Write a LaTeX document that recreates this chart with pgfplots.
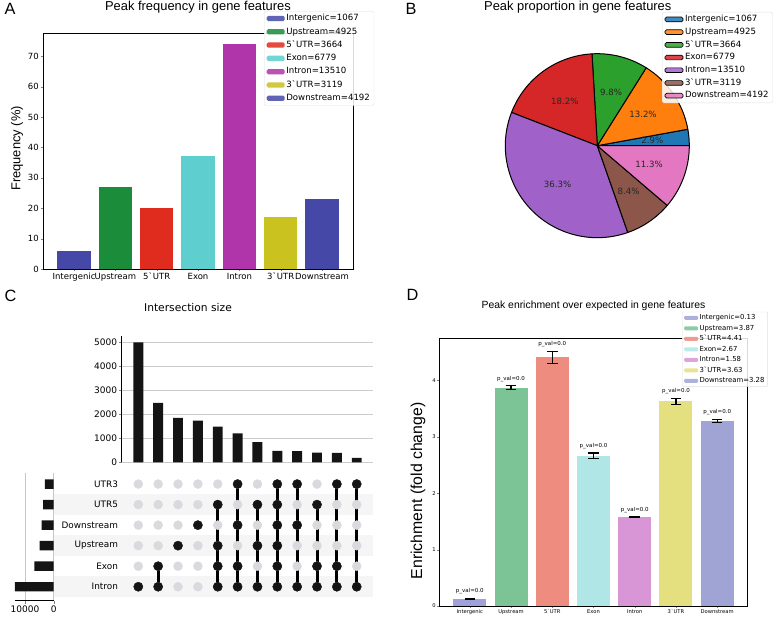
\documentclass[border=0pt]{standalone}
\usepackage{pgfplots}
\pgfplotsset{compat=1.18}
\usepackage{fontspec}
\setmainfont{Liberation Sans}
\newfontfamily\dvs{DejaVu Sans}
\newcommand\fs[1]{\fontsize{#1}{#1}\selectfont}

% panel A colours
\definecolor{aInt}{RGB}{70,72,168}
\definecolor{aUp}{RGB}{26,140,58}
\definecolor{aUf}{RGB}{224,44,30}
\definecolor{aEx}{RGB}{94,206,206}
\definecolor{aIn}{RGB}{176,52,170}
\definecolor{aUt}{RGB}{202,194,30}
\definecolor{aDn}{RGB}{70,72,168}
% panel B (tab10)
\definecolor{pBlue}{RGB}{31,119,180}
\definecolor{pOrange}{RGB}{255,127,14}
\definecolor{pGreen}{RGB}{44,160,44}
\definecolor{pRed}{RGB}{214,39,40}
\definecolor{pPurple}{RGB}{160,98,200}
\definecolor{pBrown}{RGB}{140,86,75}
\definecolor{pPink}{RGB}{227,119,194}
% panel D
\definecolor{dInt}{RGB}{160,160,218}
\definecolor{dUp}{RGB}{124,196,150}
\definecolor{dUf}{RGB}{238,140,128}
\definecolor{dEx}{RGB}{176,230,230}
\definecolor{dIn}{RGB}{216,150,214}
\definecolor{dUt}{RGB}{228,224,128}
\definecolor{dDn}{RGB}{160,164,212}
\definecolor{dotgray}{RGB}{218,218,222}

\pgfplotsset{
  /pgf/number format/assume math mode=true,
  /pgf/number format/1000 sep={},
  every axis title shift=0pt,
  patchA/.style={legend image code/.code={\fill[##1] (0pt,-2.65pt) rectangle (18pt,2.65pt);}},
  patchB/.style={legend image code/.code={\filldraw[##1] (0pt,-2.35pt) rectangle (18pt,2.35pt);}},
  patchD/.style={legend image code/.code={\fill[##1] (0pt,-2pt) rectangle (14pt,2pt);}},
  barA/.style={ybar, bar width=0.8, bar shift=0pt, draw=none, patchA},
  barD/.style={ybar, bar width=0.8, bar shift=0pt, draw=none, patchD},
  errD/.style={error bars/.cd, y dir=both, y explicit,
    error bar style={line width=1.2pt, black},
    error mark options={rotate=90, mark size=5.3pt, line width=1.1pt, black}},
}

\newcommand\pieslice[3]{%
  \filldraw[fill=#3, draw=black, line width=1pt, line join=round]
    (axis cs:0,0) -- (axis cs:{cos(#1)},{sin(#1)}) arc[start angle=#1, end angle=#2, radius=92pt] -- cycle;}
\newcommand\pielabel[3]{%
  \node[font=\dvs\fs{8.6}, text=black!85] at (axis cs:{0.6*cos((#1+#2)/2)},{0.6*sin((#1+#2)/2)}) {#3};}

\begin{document}
\begin{tikzpicture}
\path[use as bounding box] (0,0) rectangle (778pt,618pt);

% ---------------- A ----------------
\begin{axis}[
  at={(43pt,349pt)}, anchor=south west, scale only axis,
  width=310pt, height=236pt,
  xmin=-0.75, xmax=6.75, ymin=0, ymax=77.7,
  xtick={0,...,6},
  xticklabels={Intergenic,Upstream,5ˋUTR,Exon,Intron,3ˋUTR,Downstream},
  ytick={0,10,...,70},
  tick align=outside, tick pos=left, major tick length=2.5pt,
  tick label style={font=\dvs\fs{8.5}, inner sep=1.5pt},
  axis line style={line width=0.8pt},
  ylabel={Frequency (\%)},
  ylabel style={at={(-0.084,0.511)}, anchor=center, font=\fs{12.9}},
  title={Peak frequency in gene features},
  title style={at={(0.5,1.0945)}, anchor=base, font=\fs{12.9}},
  legend style={at={(0.713,1.093)}, anchor=north west, font=\dvs\fs{8.6},
    draw=black!12, fill=white, fill opacity=0.85, text opacity=1,
    rounded corners=1.5pt, inner xsep=2.5pt, inner ysep=1.5pt, row sep=1.8pt,
    nodes={inner sep=1.6pt, text height=6.4pt, text depth=1.9pt}},
  legend cell align=left,
]
\addplot[barA, fill=aInt] coordinates {(0,5.8)};  \addlegendentry{Intergenic=1067}
\addplot[barA, fill=aUp]  coordinates {(1,27.0)}; \addlegendentry{Upstream=4925}
\addplot[barA, fill=aUf]  coordinates {(2,20.1)}; \addlegendentry{5ˋUTR=3664}
\addplot[barA, fill=aEx]  coordinates {(3,37.1)}; \addlegendentry{Exon=6779}
\addplot[barA, fill=aIn]  coordinates {(4,74.0)}; \addlegendentry{Intron=13510}
\addplot[barA, fill=aUt]  coordinates {(5,17.1)}; \addlegendentry{3ˋUTR=3119}
\addplot[barA, fill=aDn]  coordinates {(6,23.0)}; \addlegendentry{Downstream=4192}
\end{axis}
\node[anchor=base west, font=\fs{16.3}] at (1pt,603pt) {A};

% ---------------- B ----------------
\pgfmathsetmacro\pT{1067/100+4925/100+3664/100+6779/100+13510/100+3119/100+4192/100}
\pgfmathsetmacro\pa{0}
\pgfmathsetmacro\pb{\pa+1067/100/\pT*360}
\pgfmathsetmacro\pc{\pb+4925/100/\pT*360}
\pgfmathsetmacro\pd{\pc+3664/100/\pT*360}
\pgfmathsetmacro\pe{\pd+6779/100/\pT*360}
\pgfmathsetmacro\pf{\pe+13510/100/\pT*360}
\pgfmathsetmacro\pg{\pf+3119/100/\pT*360}
\pgfmathsetmacro\ph{\pg+4192/100/\pT*360}
\begin{axis}[
  at={(597.3pt,472.3pt)}, anchor=center, scale only axis,
  x=92pt, y=92pt, xmin=-1, xmax=1, ymin=-1, ymax=1,
  hide axis, clip=false,
  legend style={at={(0.8516,1.2266)}, anchor=north west, font=\dvs\fs{8.6},
    draw=black!12, fill=white, fill opacity=0.85, text opacity=1,
    rounded corners=1.5pt, inner xsep=2.5pt, inner ysep=1.5pt, row sep=1.2pt,
    nodes={inner sep=1.6pt, text height=6.4pt, text depth=1.9pt}},
  legend cell align=left,
]
\pieslice{\pa}{\pb}{pBlue}
\pieslice{\pb}{\pc}{pOrange}
\pieslice{\pc}{\pd}{pGreen}
\pieslice{\pd}{\pe}{pRed}
\pieslice{\pe}{\pf}{pPurple}
\pieslice{\pf}{\pg}{pBrown}
\pieslice{\pg}{\ph}{pPink}
\pielabel{\pa}{\pb}{2.9\%}
\pielabel{\pb}{\pc}{13.2\%}
\pielabel{\pc}{\pd}{9.8\%}
\pielabel{\pd}{\pe}{18.2\%}
\pielabel{\pe}{\pf}{36.3\%}
\pielabel{\pf}{\pg}{8.4\%}
\pielabel{\pg}{\ph}{11.3\%}
\addlegendimage{patchB, fill=pBlue, draw=black, line width=0.7pt}   \addlegendentry{Intergenic=1067}
\addlegendimage{patchB, fill=pOrange, draw=black, line width=0.7pt} \addlegendentry{Upstream=4925}
\addlegendimage{patchB, fill=pGreen, draw=black, line width=0.7pt}  \addlegendentry{5ˋUTR=3664}
\addlegendimage{patchB, fill=pRed, draw=black, line width=0.7pt}    \addlegendentry{Exon=6779}
\addlegendimage{patchB, fill=pPurple, draw=black, line width=0.7pt} \addlegendentry{Intron=13510}
\addlegendimage{patchB, fill=pBrown, draw=black, line width=0.7pt}  \addlegendentry{3ˋUTR=3119}
\addlegendimage{patchB, fill=pPink, draw=black, line width=0.7pt}   \addlegendentry{Downstream=4192}
\end{axis}
\node[anchor=base, font=\fs{12.9}] at (577.8pt,607.3pt) {Peak proportion in gene features};
\node[anchor=base west, font=\fs{16.3}] at (402pt,603pt) {B};

% ---------------- C ----------------
\node[anchor=base west, font=\fs{16.3}] at (1pt,316pt) {C};
\node[font=\dvs\fs{10.7}] at (188pt,310pt) {Intersection size};
% intersection sizes
\begin{axis}[
  at={(121.7pt,155.7pt)}, anchor=south west, scale only axis,
  width=251.3pt, height=126pt,
  xmin=-0.836, xmax=11.82, ymin=0, ymax=5250,
  axis x line=none, axis y line=left, axis line style={-, line width=0.8pt},
  ytick={0,1000,...,5000}, ymajorgrids, grid style={black!20, line width=0.8pt},
  tick align=outside, major tick length=3pt,
  tick label style={font=\dvs\fs{9}, inner sep=1.5pt},
  scaled y ticks=false,
]
\addplot[ybar, bar width=0.5, bar shift=0pt, fill=black!92, draw=none]
  coordinates {(0,5000) (1,2475) (2,1850) (3,1740) (4,1490) (5,1210)
               (6,845) (7,475) (8,470) (9,400) (10,390) (11,180)};
\end{axis}
% row stripes
\begin{axis}[
  at={(121.7pt,21pt)}, anchor=south west, scale only axis,
  width=251.3pt, height=123.2pt,
  xmin=-0.836, xmax=11.82, ymin=-0.5, ymax=5.5,
  hide axis, clip=false,
]
\fill[black!4] (axis cs:-4.3,-0.5) rectangle (axis cs:11.82,0.5);
\fill[black!4] (axis cs:-4.3,1.5) rectangle (axis cs:11.82,2.5);
\fill[black!4] (axis cs:-4.3,3.5) rectangle (axis cs:11.82,4.5);
\end{axis}
% membership matrix
\begin{axis}[
  at={(121.7pt,21pt)}, anchor=south west, scale only axis,
  width=251.3pt, height=123.2pt,
  xmin=-0.836, xmax=11.82, ymin=-0.5, ymax=5.5,
  axis line style={draw=none}, xtick=\empty,
  ytick={0,...,5}, yticklabels={Intron,Exon,Upstream,Downstream,UTR5,UTR3},
  major tick length=0pt,
  tick label style={font=\dvs\fs{8.9}, inner sep=3.5pt},
  clip=false,
]
\addplot[only marks, mark=*, mark size=4.5pt, color=dotgray] coordinates {
  (0,0)(0,1)(0,2)(0,3)(0,4)(0,5) (1,0)(1,1)(1,2)(1,3)(1,4)(1,5)
  (2,0)(2,1)(2,2)(2,3)(2,4)(2,5) (3,0)(3,1)(3,2)(3,3)(3,4)(3,5)
  (4,0)(4,1)(4,2)(4,3)(4,4)(4,5) (5,0)(5,1)(5,2)(5,3)(5,4)(5,5)
  (6,0)(6,1)(6,2)(6,3)(6,4)(6,5) (7,0)(7,1)(7,2)(7,3)(7,4)(7,5)
  (8,0)(8,1)(8,2)(8,3)(8,4)(8,5) (9,0)(9,1)(9,2)(9,3)(9,4)(9,5)
  (10,0)(10,1)(10,2)(10,3)(10,4)(10,5) (11,0)(11,1)(11,2)(11,3)(11,4)(11,5)};
\addplot[black, line width=3pt] coordinates {(1,0) (1,1)};
\addplot[black, line width=3pt] coordinates {(4,0) (4,4)};
\addplot[black, line width=3pt] coordinates {(5,0) (5,5)};
\addplot[black, line width=3pt] coordinates {(6,0) (6,4)};
\addplot[black, line width=3pt] coordinates {(7,0) (7,5)};
\addplot[black, line width=3pt] coordinates {(8,0) (8,5)};
\addplot[black, line width=3pt] coordinates {(9,0) (9,4)};
\addplot[black, line width=3pt] coordinates {(10,0) (10,5)};
\addplot[black, line width=3pt] coordinates {(11,0) (11,5)};
\addplot[only marks, mark=*, mark size=4.6pt, color=black!92] coordinates {
  (0,0) (1,0)(1,1) (2,2) (3,3) (4,0)(4,1)(4,2)(4,4) (5,0)(5,1)(5,3)(5,5)
  (6,0)(6,2)(6,4) (7,0)(7,1)(7,2)(7,3)(7,4)(7,5) (8,0)(8,3)(8,5)
  (9,0)(9,1)(9,4) (10,0)(10,1)(10,5) (11,0)(11,5)};
\end{axis}
% set sizes
\begin{axis}[
  at={(53.7pt,17.3pt)}, anchor=south east, scale only axis,
  width=38.7pt, height=127.7pt,
  x dir=reverse, xmin=0, xmax=13510, ymin=-0.68, ymax=5.54,
  axis x line=bottom, axis y line=none, axis line style={-, line width=0.8pt},
  xtick={0,10000}, xmajorgrids, grid style={black!22, line width=0.8pt},
  tick align=outside, major tick length=3pt,
  tick label style={font=\dvs\fs{9}, inner sep=1.5pt},
  scaled x ticks=false,
]
\addplot[xbar, bar width=0.46, bar shift=0pt, fill=black!92, draw=none]
  coordinates {(13510,0) (6779,1) (4925,2) (4192,3) (3664,4) (3119,5)};
\end{axis}

% ---------------- D ----------------
\begin{axis}[
  at={(439.3pt,12pt)}, anchor=south west, scale only axis,
  width=308.4pt, height=267.7pt,
  xmin=-0.74, xmax=6.74, ymin=0, ymax=4.75,
  xtick={0,...,6},
  xticklabels={Intergenic,Upstream,5ˋUTR,Exon,Intron,3ˋUTR,Downstream},
  ytick={0,1,2,3,4},
  tick align=outside, tick pos=left, major tick length=2pt,
  tick label style={font=\dvs\fs{5.2}, inner sep=1.3pt},
  axis line style={line width=0.9pt},
  ylabel={Enrichment (fold change)},
  ylabel style={at={(-0.069,0.43)}, anchor=center, font=\fs{15.8}},
  title={Peak enrichment over expected in gene features},
  title style={at={(0.5,1.111)}, anchor=base, font=\fs{10.4}},
  legend style={at={(0.787,1.099)}, anchor=north west, font=\dvs\fs{6.9},
    draw=black!12, fill=white, fill opacity=0.85, text opacity=1,
    rounded corners=1.2pt, inner xsep=2pt, inner ysep=1.2pt, row sep=1.3pt,
    nodes={inner sep=1.3pt, text height=5.1pt, text depth=1.5pt}},
  legend cell align=left,
]
\addplot[barD, fill=dInt, errD] coordinates {(0,0.13) +- (0,0.008)}; \addlegendentry{Intergenic=0.13}
\addplot[barD, fill=dUp,  errD] coordinates {(1,3.87) +- (0,0.035)}; \addlegendentry{Upstream=3.87}
\addplot[barD, fill=dUf,  errD] coordinates {(2,4.41) +- (0,0.11)};  \addlegendentry{5ˋUTR=4.41}
\addplot[barD, fill=dEx,  errD] coordinates {(3,2.67) +- (0,0.045)}; \addlegendentry{Exon=2.67}
\addplot[barD, fill=dIn,  errD] coordinates {(4,1.58) +- (0,0.01)};  \addlegendentry{Intron=1.58}
\addplot[barD, fill=dUt,  errD] coordinates {(5,3.63) +- (0,0.05)};  \addlegendentry{3ˋUTR=3.63}
\addplot[barD, fill=dDn,  errD] coordinates {(6,3.28) +- (0,0.03)};  \addlegendentry{Downstream=3.28}
\node[font=\dvs\fs{5.5}] at (axis cs:0,0.26) {p\_val=0.0};
\node[font=\dvs\fs{5.5}] at (axis cs:1,4.03) {p\_val=0.0};
\node[font=\dvs\fs{5.5}] at (axis cs:2,4.65) {p\_val=0.0};
\node[font=\dvs\fs{5.5}] at (axis cs:3,2.84) {p\_val=0.0};
\node[font=\dvs\fs{5.5}] at (axis cs:4,1.71) {p\_val=0.0};
\node[font=\dvs\fs{5.5}] at (axis cs:5,3.81) {p\_val=0.0};
\node[font=\dvs\fs{5.5}] at (axis cs:6,3.44) {p\_val=0.0};
\end{axis}
\node[anchor=base west, font=\fs{16.3}] at (403pt,317.3pt) {D};
\end{tikzpicture}
\end{document}
